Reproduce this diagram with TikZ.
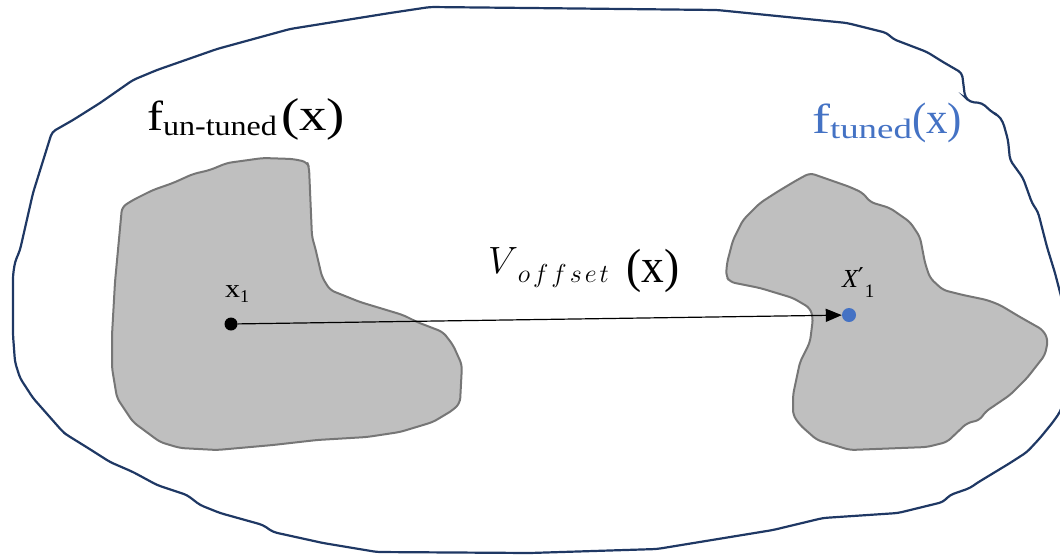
\documentclass[tikz,border=0pt]{standalone}
\usepackage{fix-cm}
\usepackage{fontspec}
\usepackage{graphicx}
\setmainfont{Liberation Serif}
\newfontfamily\dejavu{DejaVu Sans}
\usetikzlibrary{arrows.meta}
\definecolor{navy}{HTML}{1F3864}
\definecolor{blobfill}{HTML}{BFBFBF}
\definecolor{blobline}{HTML}{767676}
\definecolor{tunedblue}{HTML}{4472C4}
\begin{document}
\begin{tikzpicture}[x=1pt,y=-1pt,
  outline/.style={draw=navy,line width=2.2pt,rounded corners=4pt},
  blob/.style={draw=blobline,fill=blobfill,line width=2pt,rounded corners=5pt},
  lbl/.style={anchor=base west,inner sep=0pt,outer sep=0pt},
  pt/.style={circle,inner sep=0pt,minimum size=#1},
  arr/.style={line width=1.2pt,-{Triangle[length=16pt,width=13pt]}}]
\useasboundingbox (0,0) rectangle (1060,555);
\begin{scope}
\clip (0,0) rectangle (1060,555);
% outer region
\draw[outline] (52,132) -- (73,120) -- (100,103) -- (133,80) -- (157,70) -- (217,49) -- (290,29) -- (390,13) -- (430,7) -- (530,8) -- (717,10) -- (847,23) -- (887,33) -- (893,39) -- (927,52) -- (943,62) -- (962,73) -- (965,97) -- (970,102) -- (982,103) -- (993,113) -- (998,115) -- (1003,122) -- (1008,140) -- (1010,160) -- (1023,178) -- (1032,203) -- (1038,212) -- (1047,247) -- (1055,273) -- (1062,300) -- (1068,340) -- (1068,390) -- (1060,412) -- (1053,422) -- (1040,438) -- (1027,452) -- (1010,463) -- (977,483) -- (970,488) -- (950,495) -- (943,502) -- (898,513) -- (823,518) -- (773,530) -- (657,549) -- (530,553) -- (377,552) -- (323,543) -- (273,532) -- (263,525) -- (220,513) -- (200,505) -- (187,495) -- (157,485) -- (133,472) -- (110,462) -- (88,448) -- (67,435) -- (63,432) -- (33,398) -- (20,378) -- (15,362) -- (13,335) -- (13,275) -- (15,262) -- (20,250) -- (33,193) -- cycle;
\end{scope}
% left blob
\draw[blob] (122,207) -- (133,200) -- (153,190) -- (173,183) -- (193,174) -- (210,170) -- (227,163) -- (263,158) -- (293,159) -- (307,162) -- (309,167) -- (312,237) -- (315,247) -- (322,277) -- (330,290) -- (360,302) -- (403,315) -- (417,322) -- (443,332) -- (453,345) -- (462,365) -- (460,403) -- (453,410) -- (433,422) -- (400,432) -- (367,437) -- (317,440) -- (273,445) -- (217,450) -- (180,448) -- (160,442) -- (133,422) -- (117,398) -- (112,368) -- (112,335) -- (115,282) -- cycle;
% right blob
\draw[blob] (810,173) -- (850,187) -- (863,193) -- (870,202) -- (890,208) -- (910,222) -- (920,237) -- (925,263) -- (930,278) -- (943,290) -- (963,295) -- (987,300) -- (1000,305) -- (1020,317) -- (1043,330) -- (1048,340) -- (1045,355) -- (1027,378) -- (1010,395) -- (985,412) -- (980,420) -- (967,423) -- (947,442) -- (927,447) -- (850,450) -- (817,440) -- (800,425) -- (793,415) -- (793,395) -- (800,362) -- (810,342) -- (813,318) -- (810,308) -- (793,298) -- (760,288) -- (730,282) -- (726,276) -- (727,263) -- (733,240) -- (743,220) -- (760,203) -- (777,192) -- (797,180) -- cycle;
% points
\node[pt=13pt,fill=black] (x1) at (231,324) {};
\node[pt=14pt,fill=tunedblue] (xp) at (849,315) {};
\draw[arr] (x1) -- (xp);
% labels
\node[lbl] (lu) at (147,130) {\resizebox{16pt}{\height}{\fontsize{42}{42}\selectfont f}\raisebox{-5pt}{\resizebox{114pt}{\height}{\fontsize{28}{28}\selectfont un-tuned}}\hspace{4pt}\resizebox{64pt}{\height}{\fontsize{46}{46}\selectfont (x)}};
\node[lbl,text=tunedblue] (lt) at (812,133) {\resizebox{18pt}{\height}{\fontsize{42}{42}\selectfont f}\raisebox{-5pt}{\resizebox{82pt}{\height}{\fontsize{28}{28}\selectfont tuned}}\resizebox{50pt}{\height}{\fontsize{44}{44}\selectfont (x)}};
\node[lbl] (lv) at (488,273) {{\fontsize{38}{38}\selectfont $V$}\raisebox{-9pt}{\fontsize{26}{26}\selectfont $o\kern3pt f\kern3pt f\kern3pt s\kern3pt e\kern3pt t$}\hspace{18pt}\raisebox{-9pt}{\resizebox{53pt}{\height}{\fontsize{48}{48}\selectfont (x)}}};
\node[lbl] (lx1) at (225,297) {\resizebox{15pt}{\height}{\fontsize{26}{26}\selectfont x}\raisebox{-5pt}{\fontsize{18}{18}\selectfont 1}};
\node[lbl] (lxp) at (842,287) {{\fontsize{26}{26}\selectfont\itshape X}\raisebox{1pt}{\fontsize{26}{26}\selectfont\dejavu ′}\hspace{1pt}\raisebox{-10pt}{\fontsize{19}{19}\selectfont 1}};
\end{tikzpicture}
\end{document}
